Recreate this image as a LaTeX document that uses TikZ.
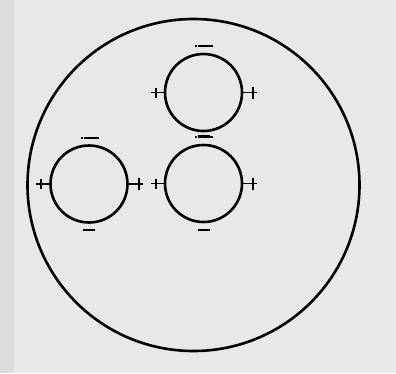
\documentclass[tikz,border=0pt]{standalone}
\definecolor{bgmain}{HTML}{E7E8E8}
\definecolor{bgstrip}{HTML}{DCDCDC}
\begin{document}
\begin{tikzpicture}[x=1pt,y=-1pt,
  ring/.style={circle,draw,line width=2.6pt,inner sep=0pt,minimum size=#1},
  sign/.style={line width=1.8pt}]
\useasboundingbox (0,0) rectangle (396,373);
\fill[bgmain] (0,0) rectangle (396,373);
\fill[bgstrip] (0,0) rectangle (14,373);
\node[ring=332] (outer) at (193.5,185) {};
\node[ring=77] (top) at (203.5,92.5) {};
\node[ring=77] (right) at (203.5,183.5) {};
\node[ring=77] (left) at (89,184) {};
\foreach \c/\bo in {top/4,right/6.5,left/6.5} {
  % left plus
  \draw[sign] (\c.west) -- ++(-13,0) ++(5,-5) -- ++(0,10);
  % right plus
  \draw[sign] (\c.east) -- ++(14,0) ++(-4,-6) -- ++(0,12);
  % top: dot and dash
  \draw[sign] ([shift={(-5.5,-6.5)}]\c.north) -- ++(15,0);
  \draw[sign] ([shift={(-8.5,-6.5)}]\c.north) -- ++(2,0);
  % bottom dash
  \draw[sign] ([shift={(-6,\bo)}]\c.south) -- ++(12,0);
}
\end{tikzpicture}
\end{document}
